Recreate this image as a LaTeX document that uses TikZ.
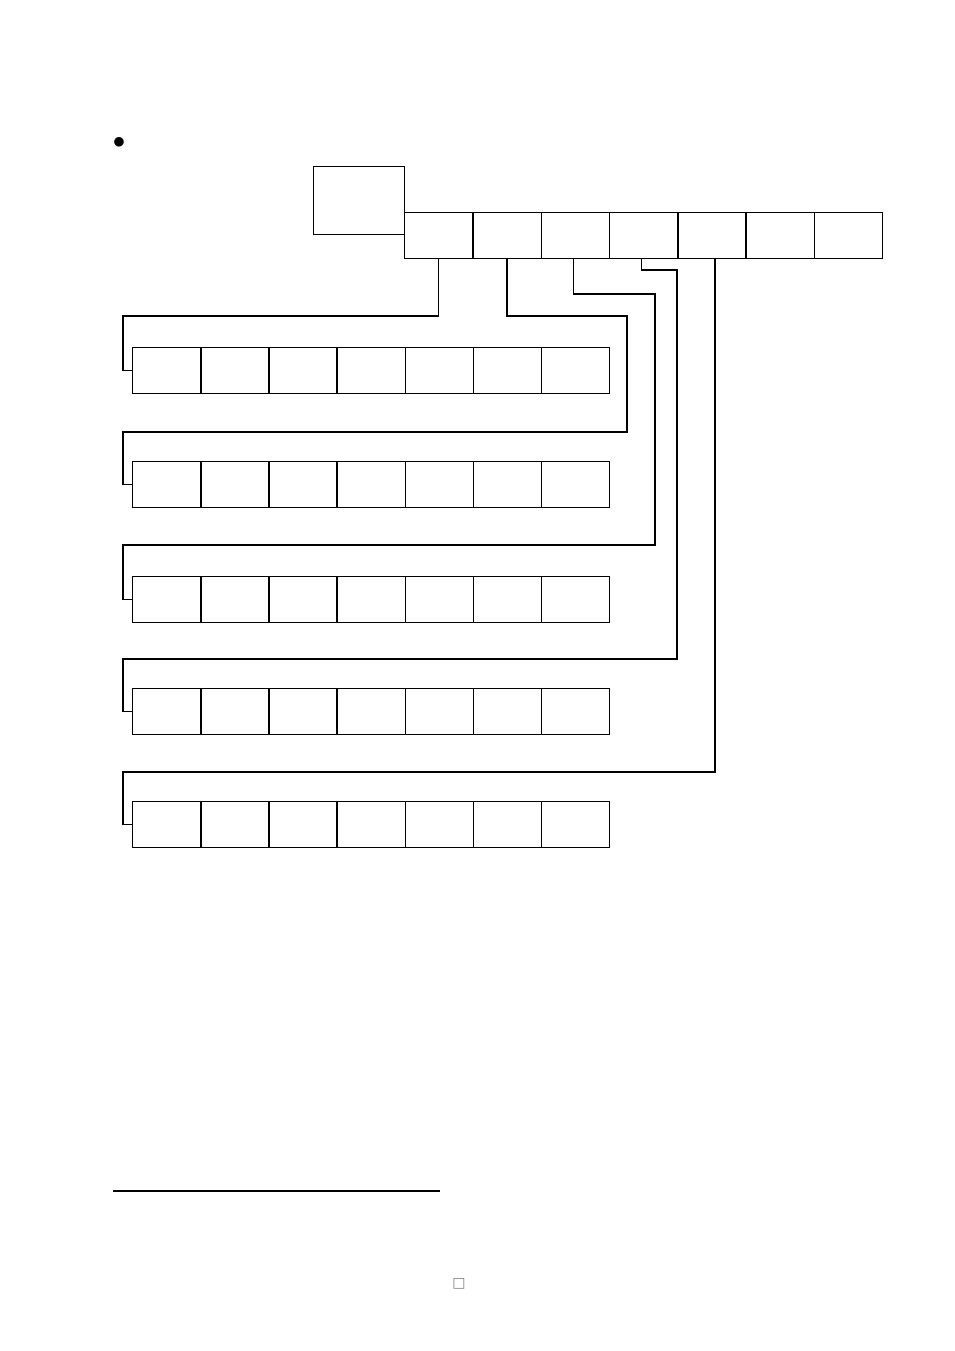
\documentclass[tikz,border=0pt]{standalone}
\usepackage{fontspec}
\newfontfamily\symfont{DejaVu Sans}
\usetikzlibrary{calc, positioning}

\begin{document}
\begin{tikzpicture}[x=1pt, y=-1pt,
  cell/.style={draw, line width=1.3pt, minimum width=68.2pt, minimum height=46pt, inner sep=0pt, anchor=north west},
  link/.style={line width=1.3pt}]
\useasboundingbox (0,0) rectangle (954,1351);
\node (dot) at (119,143) {\fontsize{25}{30}\selectfont$\bullet$};
\node[draw, line width=1pt, minimum width=91pt, minimum height=68pt, inner sep=0pt, anchor=north west] (hd) at (313,166) {};
% top row
\foreach \i in {1,...,7} {\node[cell] (t\i) at ({404+68.3*(\i-1)},212) {};}
% five rows
\foreach \r/\y in {1/347, 2/461, 3/576, 4/688, 5/801} {
  \foreach \i in {1,...,7} {\node[cell] (r\r c\i) at ({132+68.14*(\i-1)},\y) {};}
}
% connectors
\draw[link] (t1.south) |- (123,316) |- (r1c1.west);
\draw[link] (t2.south) |- (627,316) |- (123,432) |- (r2c1.west);
\draw[link] ([xshift=-2]t3.south) |- (655,294) |- (123,545) |- (r3c1.west);
\draw[link] ([xshift=-2]t4.south) |- (677,270) |- (123,659) |- (r4c1.west);
\draw[link] ([xshift=3]t5.south) |- (123,772) |- (r5c1.west);
% footnote rule and page mark
\coordinate (fa) at (113,1191);
\coordinate (fb) at (440,1191);
\draw[line width=1.6pt] (fa) -- (fb);
\node[text=gray] (pg) at (459,1284) {\symfont\fontsize{14}{16}\selectfont □};
\end{tikzpicture}
\end{document}
